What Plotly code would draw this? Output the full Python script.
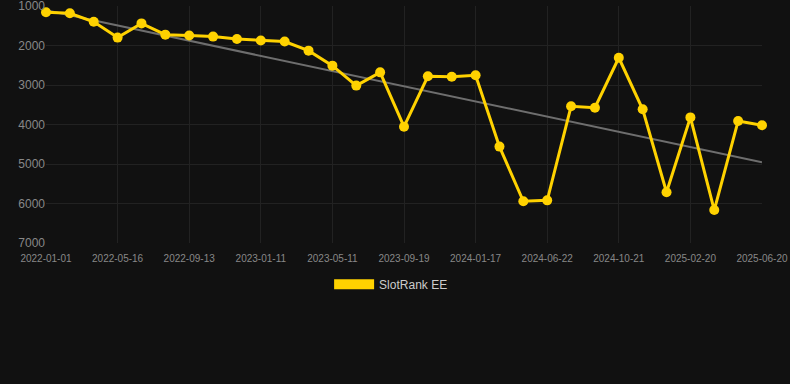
import plotly.graph_objects as go

dates = [
    "2022-01-01", "2022-02-15", "2022-03-31",
    "2022-05-16", "2022-06-25", "2022-08-04",
    "2022-09-13", "2022-10-23", "2022-12-02",
    "2023-01-11", "2023-02-20", "2023-04-01",
    "2023-05-11", "2023-06-24", "2023-08-07",
    "2023-09-19", "2023-10-29", "2023-12-08",
    "2024-01-17", "2024-03-08", "2024-04-30",
    "2024-06-22", "2024-08-01", "2024-09-10",
    "2024-10-21", "2024-12-01", "2025-01-10",
    "2025-02-20", "2025-04-01", "2025-05-11",
    "2025-06-20",
]
ranks = [
    1160, 1185, 1400, 1800, 1440, 1725, 1745, 1775, 1835, 1875, 1900,
    2130, 2510, 3015, 2680, 4055, 2780, 2790, 2755, 4560, 5945, 5920,
    3540, 3575, 2310, 3615, 5715, 3820, 6165, 3910, 4020,
]
tick_labels = dates[::3]
trend_x = [dates[0], dates[-1]]
trend_y = [1110, 4955]
y_ticks = [1000, 2000, 3000, 4000, 5000, 6000, 7000]

YELLOW = "#FFD200"
FONT = "Liberation Sans, Arial, sans-serif"

fig = go.Figure()
fig.add_trace(go.Scatter(
    x=trend_x, y=trend_y, mode="lines",
    line=dict(color="#6e6e6e", width=2),
    showlegend=False, hoverinfo="skip",
))
fig.add_trace(go.Scatter(
    x=dates, y=ranks, mode="lines+markers",
    line=dict(color=YELLOW, width=3),
    marker=dict(color=YELLOW, size=10),
    cliponaxis=False, showlegend=False, name="SlotRank EE",
))
fig.add_trace(go.Scatter(
    x=[None], y=[None], mode="lines", name="SlotRank EE",
    line=dict(color=YELLOW, width=12),
))

fig.update_layout(
    width=790, height=384,
    margin=dict(l=46, r=28, t=6, b=141),
    paper_bgcolor="#111111", plot_bgcolor="#111111",
    font=dict(family=FONT, color="#888888"),
    legend=dict(orientation="h", x=0.482, xanchor="center", y=-0.113, yanchor="top",
                itemwidth=40,
                font=dict(size=12, color="#cccccc", family=FONT)),
)
fig.update_xaxes(
    type="category", categoryorder="array", categoryarray=dates,
    range=[0, len(dates) - 1],
    tickmode="array", tickvals=tick_labels, ticktext=tick_labels,
    tickfont=dict(size=10, color="#888888"),
    ticklabelstandoff=8, ticklabeloverflow="allow",
    showgrid=True, gridcolor="#222222", gridwidth=1,
    zeroline=False, showline=False, ticks="", automargin=False,
)
fig.update_yaxes(
    range=[7000, 1000], tickvals=y_ticks,
    tickfont=dict(size=12, color="#888888"),
    ticklabeloverflow="allow",
    showgrid=True, gridcolor="#222222", gridwidth=1,
    zeroline=False, showline=False, ticks="", automargin=False,
)

fig.write_html(
    "out.html",
    config={"displayModeBar": False},
    post_script="document.body.style.margin='0';document.body.style.background='#111111';",
)
